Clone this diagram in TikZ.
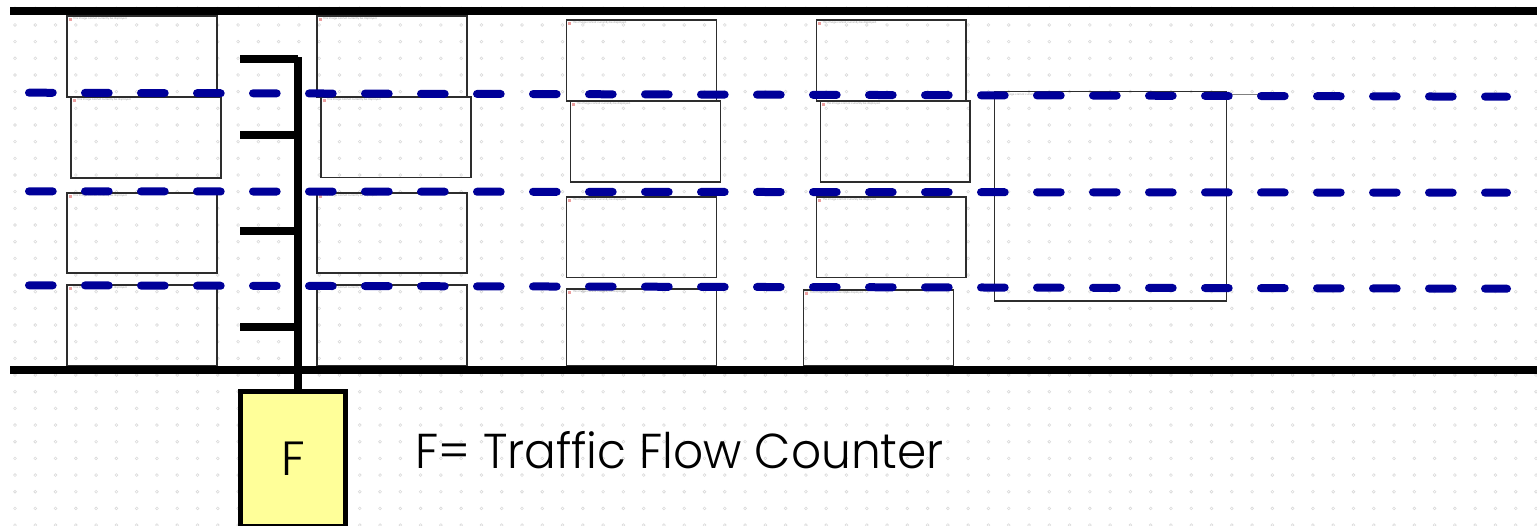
\documentclass[tikz,border=0pt]{standalone}
\usepackage{fontspec}
\setmainfont{Poppins}[UprightFont={* Light}]
\definecolor{lane}{RGB}{0,0,153}
\definecolor{boxfill}{RGB}{255,255,153}
\definecolor{dotc}{RGB}{218,218,218}
\definecolor{frame}{RGB}{45,45,45}
\definecolor{iconc}{RGB}{235,160,160}
\tikzset{
  griddot/.style={draw=dotc,line width=0.6pt},
  carbox/.style={draw=frame,line width=1.1pt},
  lanemark/.style={draw=lane,line width=8pt,line cap=round,dash pattern=on 23.7pt off 32.3pt},
  roadline/.style={draw=black,line width=8pt},
  busline/.style={draw=black,line width=7.5pt},
  counterbox/.style={draw=black,line width=5pt,fill=boxfill,minimum width=105pt,minimum height=134.5pt,inner sep=0pt,font=\fontsize{48}{52}\selectfont},
  tinytext/.style={font=\fontsize{2.6}{3}\selectfont,text=gray,inner sep=0pt,anchor=west},
  legend/.style={font=\fontsize{49}{58}\selectfont,inner sep=0pt}
}
\begin{document}
\begin{tikzpicture}[x=1pt,y=-1pt]
\useasboundingbox (0,0) rectangle (1537,525);
\clip (0,0) rectangle (1537,525);
% dotted grid
\foreach \i in {0,...,75}{
  \foreach \j in {0,...,31}{
    \draw[griddot] ({15+20.28*\i},{8.3+16.67*\j}) circle (1.4pt);
  }
}
% car placeholders
\foreach \xa/\ya/\xb/\yb in {
  67/16/217/97, 71/97/221/178, 67/193/217/273, 67/285/217/366,
  317/16/467/97, 321/97/471/177.5, 317/193/467/273, 317/285/467/366,
  566.5/20/716.5/101, 570.5/101/720.5/182, 566.5/197/716.5/277.5, 566.5/289/716.5/366,
  816.5/20/966/101, 820.3/101/970/182, 816.3/197/966/277.5, 803.7/290/953.3/366,
  994.3/91.7/1226.7/301}{
  \draw[carbox] (\xa,\ya) rectangle (\xb,\yb);
  \fill[iconc] (\xa+1.5,\ya+1.5) rectangle (\xa+4.5,\ya+4.5);
  \node[tinytext] at (\xa+6,\ya+3) {This image cannot currently be displayed.};
}
\draw[gray,line width=0.4pt] (1226.7,94) -- (1258,94);
% lane markings
\draw[lanemark] (29,92.7) -- (1507,96.7);
\draw[lanemark] (29,191.3) -- (1507,192.7);
\draw[lanemark] (29,285.3) -- (1507,288.7);
% road edges
\draw[roadline] (10,10.8) -- (1537,10.8);
\draw[roadline] (10,370.3) -- (1537,370.3);
% traffic flow counter
\node[counterbox] (F) at (293,459) {F};
\coordinate (bustop) at (298,57.3);
\draw[busline] (bustop) -- (bustop |- F.north);
\foreach \y [count=\k] in {59,135,231,327}{
  \coordinate (tick\k) at (240,\y);
  \draw[busline] (tick\k) -- (tick\k -| bustop);
}
\node[legend,anchor=west,xscale=0.96] (legend) at (415,450) {F= Traffic Flow Counter};
\end{tikzpicture}
\end{document}
